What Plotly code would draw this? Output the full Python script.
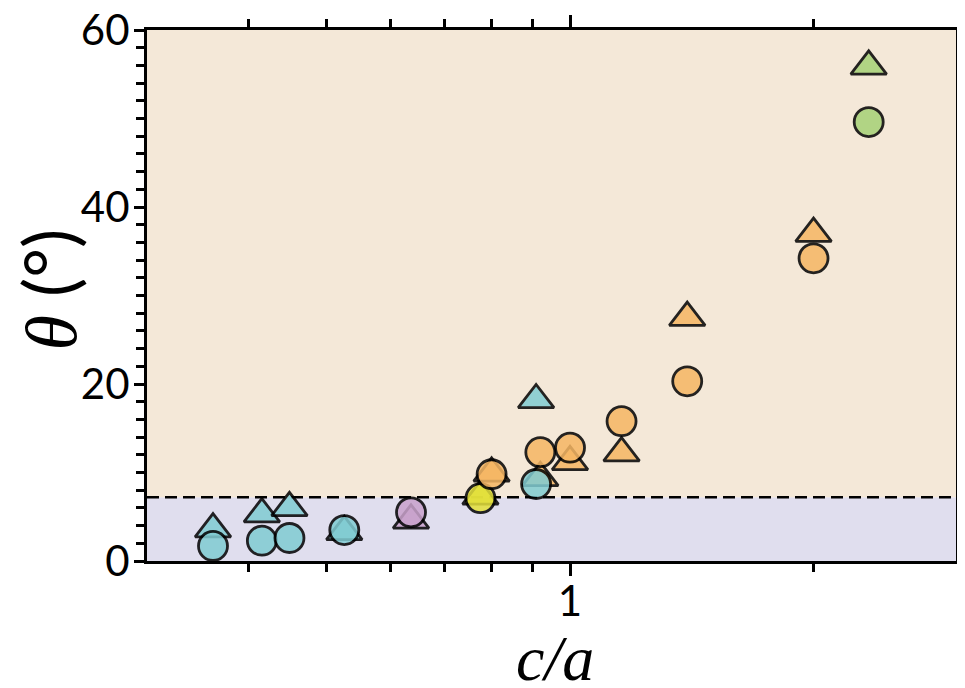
import plotly.graph_objects as go

# ---- data ----
cyan_x = [0.362, 0.416, 0.450, 0.526, 0.908]
cyan_circle = [1.7, 2.3, 2.6, 3.5, 8.7]
cyan_tri = [3.6, 5.3, 6.0, 3.3, 18.2]

purple_x = [0.636]
purple_circle = [5.5]
purple_tri = [4.6]

yellow_x = [0.775]
yellow_circle = [7.1]
yellow_tri = [7.3]

orange_x = [0.80, 0.919, 1.0, 1.158, 1.396, 2.0]
orange_circle = [9.8, 12.3, 12.8, 15.8, 20.3, 34.2]
orange_tri = [9.9, 9.4, 11.2, 12.2, 27.5, 37.0]

green_x = [2.34]
green_circle = [49.6]
green_tri = [55.9]

threshold = 7.2
x_range = [0.3, 3.0]
y_range = [0, 60]
x_major = [1]
x_major_text = ["1"]
x_minor = [0.4, 0.5, 0.6, 0.7, 0.8, 0.9, 2]
y_major = [0, 20, 40, 60]

series = [
    ("cyan", "#80CCD2", cyan_x, cyan_circle, cyan_tri),
    ("purple", "#C9A2CC", purple_x, purple_circle, purple_tri),
    ("yellow", "#E3E03A", yellow_x, yellow_circle, yellow_tri),
    ("orange", "#F6B663", orange_x, orange_circle, orange_tri),
    ("green", "#A6D176", green_x, green_circle, green_tri),
]

fig = go.Figure()

# triangles first
for name, col, xs, cs, ts in series:
    fig.add_trace(go.Scatter(
        x=xs, y=ts, mode="markers", name=name + " tri",
        marker=dict(symbol="triangle-up", size=31, color=col, opacity=0.85,
                    line=dict(color="black", width=2.8)),
        showlegend=False))
# circles on top
for name, col, xs, cs, ts in series:
    fig.add_trace(go.Scatter(
        x=xs, y=cs, mode="markers", name=name + " circle",
        marker=dict(symbol="circle", size=29, color=col, opacity=0.85,
                    line=dict(color="black", width=2.8)),
        showlegend=False))

fig.add_shape(type="rect", xref="paper", yref="y", x0=0, x1=1, y0=y_range[0], y1=threshold,
              fillcolor="#E0DEEE", line=dict(width=0), layer="below")
fig.add_shape(type="rect", xref="paper", yref="y", x0=0, x1=1, y0=threshold, y1=y_range[1],
              fillcolor="#F4E8D8", line=dict(width=0), layer="below")
fig.add_shape(type="line", xref="paper", yref="y", x0=0, x1=1, y0=threshold, y1=threshold,
              line=dict(color="black", width=2.5, dash="12px,6px"), layer="below")

tickfont = dict(family="Lato", size=42, color="black")

fig.update_xaxes(
    type="log", range=[-0.5228787, 0.4771213], automargin=False,
    tickmode="array", tickvals=x_major, ticktext=x_major_text,
    ticks="outside", ticklen=12, tickwidth=3, tickcolor="black",
    ticklabelstandoff=-10, ticklabeloverflow="allow",
    showline=True, linewidth=3, linecolor="black", mirror="ticks",
    showgrid=False, zeroline=False, tickfont=tickfont,
    minor=dict(tickmode="array", tickvals=x_minor, ticks="outside",
               ticklen=8, tickwidth=3, tickcolor="black", showgrid=False),
)
fig.update_yaxes(
    range=y_range, tickmode="array", tickvals=y_major, automargin=False,
    ticks="outside", ticklen=10, tickwidth=3, tickcolor="black",
    ticklabelstandoff=-4, ticklabeloverflow="allow",
    showline=True, linewidth=3, linecolor="black", mirror="ticks",
    showgrid=False, zeroline=False, tickfont=tickfont,
    minor=dict(dtick=2, tick0=0, ticks="outside", ticklen=8, tickwidth=3,
               tickcolor="black", showgrid=False),
)

fig.add_annotation(
    text='<i>θ</i> <span style="font-family:Lato">(°)</span>',
    xref="paper", yref="paper", x=-0.122, y=0.512, showarrow=False,
    textangle=-90, xanchor="center", yanchor="middle",
    font=dict(family="Liberation Serif", size=72, color="black"))
fig.add_annotation(
    text="<i>c/a</i>",
    xref="paper", yref="paper", x=0.504, y=-0.183, showarrow=False,
    xanchor="center", yanchor="middle",
    font=dict(family="Liberation Serif", size=64, color="black"))

fig.update_layout(
    width=957, height=680,
    margin=dict(l=139, r=9, t=22, b=127),
    paper_bgcolor="white", plot_bgcolor="white",
    showlegend=False,
)

fig.write_html("out.html")
